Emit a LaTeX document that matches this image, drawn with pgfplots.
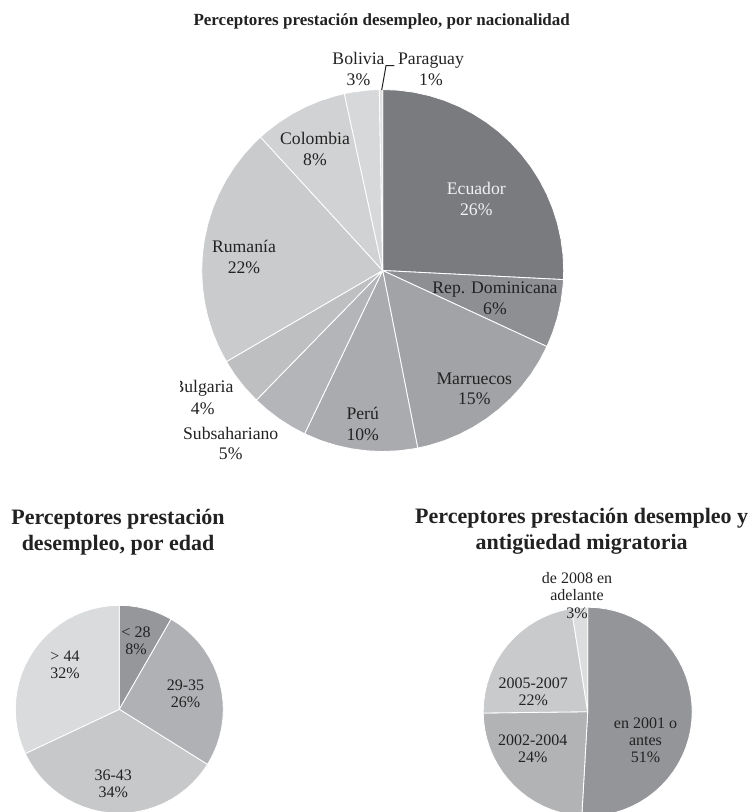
\documentclass[border=0pt]{standalone}
\usepackage{fontspec}
\setmainfont{Liberation Serif}
\usepackage{pgfplots}
\pgfplotsset{compat=1.18}
% Slice values (percent), clockwise from 12 o'clock; the angles below are
% 90 - 3.6*cumulative percent (polar degrees).
% Nacionalidad: Ecuador 25.8, Rep. Dominicana 6.1, Marruecos 15.0, Peru 10.2,
%   Subsahariano 5.2, Bulgaria 4.3, Rumania 21.6, Colombia 8.4, Bolivia 3.1, Paraguay 0.3
% Edad: <28 8.3, 29-35 25.6, 36-43 34.1, >44 32.0
% Antiguedad: en 2001 o antes 50.9, 2002-2004 23.9, 2005-2007 22.7, de 2008 2.5
\definecolor{txt}{HTML}{222222}
\definecolor{cA}{HTML}{7A7B7F}
\definecolor{cB}{HTML}{8E8F93}
\definecolor{cC}{HTML}{A2A3A6}
\definecolor{cD}{HTML}{AAABAE}
\definecolor{cE}{HTML}{B4B5B8}
\definecolor{cF}{HTML}{BEBFC1}
\definecolor{cG}{HTML}{CACBCD}
\definecolor{cH}{HTML}{D1D2D3}
\definecolor{cI}{HTML}{D7D8D9}
\definecolor{cJ}{HTML}{E1E1E2}
\definecolor{eA}{HTML}{96979A}
\definecolor{eB}{HTML}{B0B1B4}
\definecolor{eC}{HTML}{C7C8CA}
\definecolor{eD}{HTML}{DADBDC}
\definecolor{mA}{HTML}{949598}
\definecolor{mB}{HTML}{B2B3B5}
\definecolor{mC}{HTML}{C9CACC}
\definecolor{mD}{HTML}{DCDDDF}
\pgfplotsset{
  pieaxis/.style={anchor=center, scale only axis, hide axis, clip=false,
    xmin=-1, xmax=1, ymin=-1, ymax=1},
  sl/.style={data cs=polar, draw=white, line width=0.5pt, fill=#1}
}
\begin{document}
\begin{tikzpicture}
\path[use as bounding box] (0,0) rectangle (451.2pt,-487.2pt);
% ---------- top pie ----------
\begin{axis}[pieaxis, at={(229.62pt,-162.3pt)}, width=217.2pt, height=217.2pt]
\addplot[sl=cA] coordinates {(0,0) (90,1) (85,1) (80,1) (75,1) (70,1) (65,1) (60,1) (55,1) (50,1) (45,1) (40,1) (35,1) (30,1) (25,1) (20,1) (15,1) (10,1) (5,1) (0,1) (-2.88,1) (0,0)};
\addplot[sl=cB] coordinates {(0,0) (-2.88,1) (-5,1) (-10,1) (-15,1) (-20,1) (-24.84,1) (0,0)};
\addplot[sl=cC] coordinates {(0,0) (-24.84,1) (-30,1) (-35,1) (-40,1) (-45,1) (-50,1) (-55,1) (-60,1) (-65,1) (-70,1) (-75,1) (-78.84,1) (0,0)};
\addplot[sl=cD] coordinates {(0,0) (-78.84,1) (-80,1) (-85,1) (-90,1) (-95,1) (-100,1) (-105,1) (-110,1) (-115.56,1) (0,0)};
\addplot[sl=cE] coordinates {(0,0) (-115.56,1) (-120,1) (-125,1) (-130,1) (-134.28,1) (0,0)};
\addplot[sl=cF] coordinates {(0,0) (-134.28,1) (-140,1) (-145,1) (-149.76,1) (0,0)};
\addplot[sl=cG] coordinates {(0,0) (-149.76,1) (-155,1) (-160,1) (-165,1) (-170,1) (-175,1) (-180,1) (-185,1) (-190,1) (-195,1) (-200,1) (-205,1) (-210,1) (-215,1) (-220,1) (-225,1) (-227.52,1) (0,0)};
\addplot[sl=cH] coordinates {(0,0) (-227.52,1) (-230,1) (-235,1) (-240,1) (-245,1) (-250,1) (-255,1) (-257.76,1) (0,0)};
\addplot[sl=cI] coordinates {(0,0) (-257.76,1) (-260,1) (-265,1) (-268.92,1) (0,0)};
\addplot[sl=cJ] coordinates {(0,0) (-268.92,1) (-270,1) (0,0)};
\end{axis}
% ---------- bottom-left pie ----------
\begin{axis}[pieaxis, at={(71.58pt,-425.58pt)}, width=124.8pt, height=124.8pt]
\addplot[sl=eA] coordinates {(0,0) (90,1) (85,1) (80,1) (75,1) (70,1) (65,1) (60.12,1) (0,0)};
\addplot[sl=eB] coordinates {(0,0) (60.12,1) (55,1) (50,1) (45,1) (40,1) (35,1) (30,1) (25,1) (20,1) (15,1) (10,1) (5,1) (0,1) (-5,1) (-10,1) (-15,1) (-20,1) (-25,1) (-30,1) (-32.04,1) (0,0)};
\addplot[sl=eC] coordinates {(0,0) (-32.04,1) (-35,1) (-40,1) (-45,1) (-50,1) (-55,1) (-60,1) (-65,1) (-70,1) (-75,1) (-80,1) (-85,1) (-90,1) (-95,1) (-100,1) (-105,1) (-110,1) (-115,1) (-120,1) (-125,1) (-130,1) (-135,1) (-140,1) (-145,1) (-150,1) (-154.8,1) (0,0)};
\addplot[sl=eD] coordinates {(0,0) (-154.8,1) (-160,1) (-165,1) (-170,1) (-175,1) (-180,1) (-185,1) (-190,1) (-195,1) (-200,1) (-205,1) (-210,1) (-215,1) (-220,1) (-225,1) (-230,1) (-235,1) (-240,1) (-245,1) (-250,1) (-255,1) (-260,1) (-265,1) (-270,1) (0,0)};
\end{axis}
% ---------- bottom-right pie ----------
\begin{axis}[pieaxis, at={(352.62pt,-427.02pt)}, width=125.4pt, height=125.4pt]
\addplot[sl=mA] coordinates {(0,0) (90,1) (85,1) (80,1) (75,1) (70,1) (65,1) (60,1) (55,1) (50,1) (45,1) (40,1) (35,1) (30,1) (25,1) (20,1) (15,1) (10,1) (5,1) (0,1) (-5,1) (-10,1) (-15,1) (-20,1) (-25,1) (-30,1) (-35,1) (-40,1) (-45,1) (-50,1) (-55,1) (-60,1) (-65,1) (-70,1) (-75,1) (-80,1) (-85,1) (-90,1) (-93.24,1) (0,0)};
\addplot[sl=mB] coordinates {(0,0) (-93.24,1) (-95,1) (-100,1) (-105,1) (-110,1) (-115,1) (-120,1) (-125,1) (-130,1) (-135,1) (-140,1) (-145,1) (-150,1) (-155,1) (-160,1) (-165,1) (-170,1) (-175,1) (-179.28,1) (0,0)};
\addplot[sl=mC] coordinates {(0,0) (-179.28,1) (-180,1) (-185,1) (-190,1) (-195,1) (-200,1) (-205,1) (-210,1) (-215,1) (-220,1) (-225,1) (-230,1) (-235,1) (-240,1) (-245,1) (-250,1) (-255,1) (-261,1) (0,0)};
\addplot[sl=mD] coordinates {(0,0) (-261,1) (-265,1) (-270,1) (0,0)};
\end{axis}
% ---------- texts (pixel units, y downwards) ----------
\begin{scope}[x=0.6pt, y=-0.6pt, every node/.style={text=txt, align=center, inner sep=0pt}]
\node[font=\bfseries\fontsize{10.2}{12}\selectfont] at (381.7,21.5) {Perceptores prestación desempleo, por nacionalidad};
\begin{scope}[every node/.append style={font=\fontsize{10.6}{12.4}\selectfont}]
\node[text=white!95!black] at (476.3,198.7) {Ecuador\\26\%};
\node at (495,298) {Rep. Dominicana\\6\%};
\node at (474.3,388.7) {Marruecos\\15\%};
\node at (362.7,423.7) {Perú\\10\%};
\node at (230.7,443.5) {Subsahariano\\5\%};
\node at (244,257) {Rumanía\\22\%};
\node at (315,149) {Colombia\\8\%};
\node at (358.5,69) {Bolivia\\3\%};
\node at (431,69) {Paraguay\\1\%};
\node at (202.7,408.3) {4\%};
\begin{scope}
\clip (180,370) rectangle (260,400);
\node at (203,388) {Bulgaria};
\end{scope}
\end{scope}
\draw[txt, line width=0.6pt] (381.7,90) -- (386,65.7) -- (394.3,65.7);
\node[font=\bfseries\fontsize{13.2}{15.5}\selectfont] at (118,532) {Perceptores prestación\\desempleo, por edad};
\node[font=\bfseries\fontsize{13.2}{15.5}\selectfont] at (581.7,531) {Perceptores prestación desempleo y\\antigüedad migratoria};
\begin{scope}[every node/.append style={font=\fontsize{9.6}{10.3}\selectfont}]
\node at (136,641) {< 28\\8\%};
\node at (185.5,694) {29-35\\26\%};
\node at (113.3,783.7) {36-43\\34\%};
\node at (65,665) {> 44\\32\%};
\node at (577,595.5) {de 2008 en\\adelante\\3\%};
\node at (533.3,692) {2005-2007\\22\%};
\node at (532.7,748.7) {2002-2004\\24\%};
\node at (645.5,740) {en 2001 o\\antes\\51\%};
\end{scope}
\end{scope}
\end{tikzpicture}
\end{document}
